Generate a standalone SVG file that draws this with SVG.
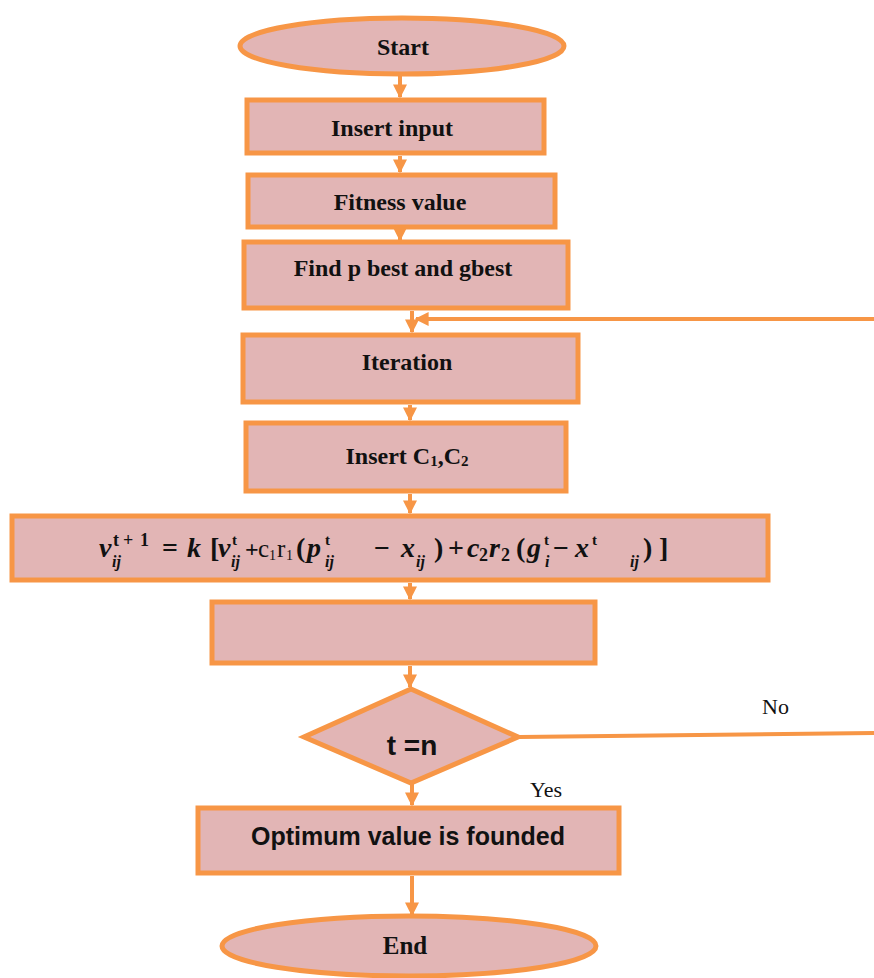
<svg xmlns="http://www.w3.org/2000/svg" width="874" height="978" viewBox="0 0 874 978">
<style>
.n{fill:#E2B5B5;stroke:#F79646;stroke-width:5}
.t{font-family:"Liberation Serif",serif;font-weight:bold;font-size:24px;fill:#111;text-anchor:middle;dominant-baseline:central}
.s{font-family:"Liberation Sans",sans-serif}
.c{stroke:#F79646;stroke-width:4;fill:none}
.f{font-family:"Liberation Serif",serif;font-weight:bold;fill:#111}
.i{font-style:italic}
.u{font-weight:normal}
.l{font-family:"Liberation Serif",serif;fill:#111;font-size:22px}
</style>
<defs>
<marker id="a" viewBox="0 0 10 10" refX="9" refY="5" markerWidth="3.5" markerHeight="3.5" orient="auto" markerUnits="strokeWidth">
<path d="M0,0 L10,5 L0,10 z" fill="#F79646"/>
</marker>
</defs>
<g id="connectors">
<line class="c" x1="400" y1="76" x2="400" y2="97" marker-end="url(#a)"/>
<line class="c" x1="400" y1="156" x2="400" y2="172" marker-end="url(#a)"/>
<line class="c" x1="400" y1="230" x2="400" y2="240" marker-end="url(#a)"/>
<line class="c" x1="412" y1="311" x2="412" y2="332" marker-end="url(#a)"/>
<line class="c" x1="874" y1="319" x2="416" y2="319" marker-end="url(#a)"/>
<line class="c" x1="410" y1="405" x2="410" y2="420" marker-end="url(#a)"/>
<line class="c" x1="410" y1="494" x2="410" y2="513" marker-end="url(#a)"/>
<line class="c" x1="410" y1="583" x2="410" y2="599" marker-end="url(#a)"/>
<line class="c" x1="410" y1="666" x2="410" y2="687" marker-end="url(#a)"/>
<line class="c" x1="520" y1="737" x2="874" y2="733"/>
<line class="c" x1="412" y1="784" x2="412" y2="805" marker-end="url(#a)"/>
<line class="c" x1="412" y1="876" x2="412" y2="915" marker-end="url(#a)"/>
</g>
<g id="start"><ellipse class="n" cx="402" cy="46" rx="162" ry="28"/><text class="t" x="403" y="47">Start</text></g>
<g id="insert-input"><rect class="n" x="247" y="100" width="297" height="53"/><text class="t" x="392" y="128">Insert input</text></g>
<g id="fitness"><rect class="n" x="248" y="175" width="307" height="52"/><text class="t" x="400" y="202">Fitness value</text></g>
<g id="find-best"><rect class="n" x="244" y="242" width="324" height="66"/><text class="t" x="403" y="268">Find  p best and gbest</text></g>
<g id="iteration"><rect class="n" x="243" y="335" width="335" height="67"/><text class="t" x="407" y="362">Iteration</text></g>
<g id="insert-c"><rect class="n" x="246" y="423" width="320" height="68"/><text class="t" x="407" y="456">Insert C<tspan font-size="15" dy="5">1</tspan><tspan dy="-5">,C</tspan><tspan font-size="15" dy="5">2</tspan></text></g>
<g id="velocity"><rect class="n" x="12" y="516" width="756" height="64"/>
<text class="f" font-size="28">
<tspan class="i" x="99" y="557">v</tspan>
<tspan font-size="18" x="113" y="546">t</tspan><tspan font-size="18" x="123" y="546">+</tspan><tspan font-size="18" x="140" y="546">1</tspan>
<tspan class="i" font-size="16" x="112" y="567">ij</tspan>
<tspan x="162" y="557">=</tspan>
<tspan class="i" x="187" y="557">k</tspan>
<tspan x="210" y="557">[</tspan>
<tspan class="i" x="218" y="557">v</tspan>
<tspan font-size="15" x="232" y="545">t</tspan>
<tspan class="i" font-size="16" x="231" y="567">ij</tspan>
<tspan font-size="24" x="245" y="557">+</tspan>
<tspan class="u" font-size="25" x="258" y="557">c</tspan><tspan class="u" font-size="14" x="269" y="560">1</tspan><tspan class="u" font-size="25" x="277" y="557">r</tspan><tspan class="u" font-size="14" x="286" y="560">1</tspan>
<tspan x="296" y="557">(</tspan>
<tspan class="i" x="307" y="557">p</tspan>
<tspan font-size="15" x="325" y="545">t</tspan>
<tspan class="i" font-size="16" x="325" y="567">ij</tspan>
<tspan x="374" y="557">−</tspan>
<tspan class="i" x="401" y="557">x</tspan>
<tspan class="i" font-size="16" x="416" y="567">ij</tspan>
<tspan x="434" y="557">)</tspan>
<tspan x="448" y="557">+</tspan>
<tspan class="i" x="467" y="557">c</tspan><tspan font-size="18" x="479" y="561">2</tspan><tspan class="i" x="489" y="557">r</tspan><tspan font-size="18" x="501" y="561">2</tspan>
<tspan x="516" y="557">(</tspan>
<tspan class="i" x="527" y="557">g</tspan>
<tspan font-size="15" x="544" y="545">t</tspan>
<tspan class="i" font-size="16" x="545" y="567">i</tspan>
<tspan x="553" y="557">−</tspan>
<tspan class="i" x="575" y="557">x</tspan>
<tspan font-size="15" x="592" y="545">t</tspan>
<tspan class="i" font-size="16" x="630" y="567">ij</tspan>
<tspan x="643" y="557">)</tspan>
<tspan x="659" y="557">]</tspan>
</text></g>
<g id="update"><rect class="n" x="212" y="602" width="383" height="61"/></g>
<g id="decision"><polygon class="n" points="411,689 518,737 411,783 304,737"/><text class="t s" x="412" y="745" style="font-size:28px">t =n</text></g>
<g id="optimum"><rect class="n" x="198" y="808" width="421" height="65"/><text class="t s" x="408" y="836" style="font-size:25px">Optimum value is founded</text></g>
<g id="end"><ellipse class="n" cx="409" cy="946" rx="187" ry="30"/><text class="t" x="405" y="945" style="font-size:25px">End</text></g>
<text class="l" x="762" y="714">No</text>
<text class="l" x="530" y="797">Yes</text>
</svg>
